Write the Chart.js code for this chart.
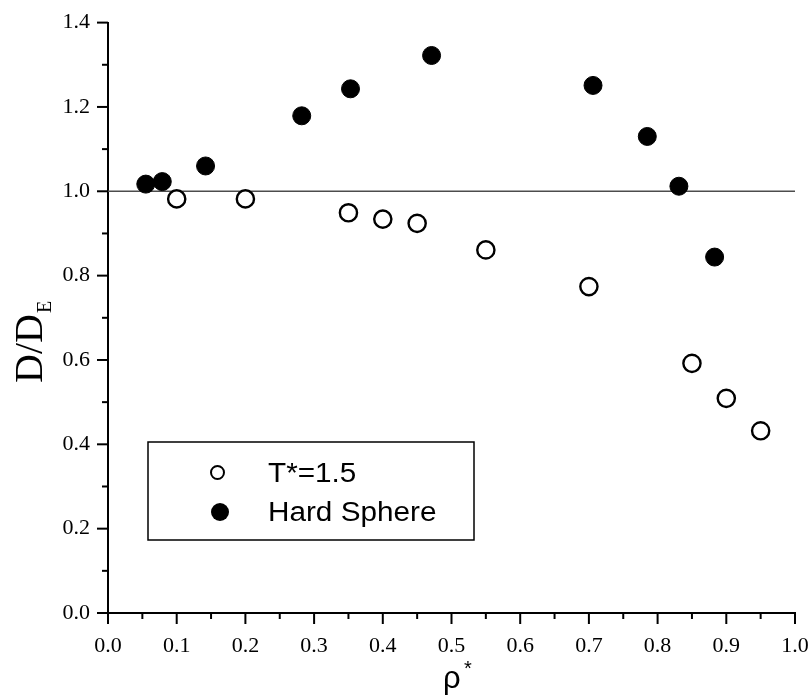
<!DOCTYPE html>
<html>
<head>
<meta charset="utf-8">
<script src="https://cdn.jsdelivr.net/npm/chart.js@4.4.1/dist/chart.umd.min.js"></script>
<style>
  html, body { margin: 0; padding: 0; background: #fff; }
  #wrap { width: 810px; height: 696px; }
</style>
</head>
<body>
<div id="wrap"><canvas id="chart"></canvas></div>
<script>
// T*=1.5 (open circles)
const tempRho = [0.100, 0.200, 0.350, 0.400, 0.450, 0.550, 0.700, 0.850, 0.900, 0.950];
const tempD   = [0.982, 0.982, 0.949, 0.934, 0.924, 0.861, 0.774, 0.592, 0.509, 0.432];

// Hard Sphere (filled circles)
const hardRho = [0.055, 0.079, 0.142, 0.282, 0.353, 0.471, 0.706, 0.785, 0.831, 0.883];
const hardD   = [1.017, 1.023, 1.060, 1.179, 1.243, 1.322, 1.251, 1.130, 1.012, 0.844];

// reference line D/DE = 1
const refRho = [0, 1];
const refD   = [1, 1];

const seriesNames = ['T*=1.5', 'Hard Sphere'];

function toPoints(xs, ys) {
  return xs.map(function (x, i) { return { x: x, y: ys[i] }; });
}

const tickFont = { family: 'Liberation Serif', size: 22 };

// tick marks, axis titles and the boxed legend
const decorations = {
  id: 'decorations',
  afterDraw: function (chart) {
    const ctx = chart.ctx;
    const xs = chart.scales.x;
    const ys = chart.scales.y;
    const area = chart.chartArea;
    ctx.save();
    ctx.strokeStyle = '#000';
    ctx.lineWidth = 2;

    // x ticks
    xs.ticks.forEach(function (t) {
      const px = xs.getPixelForValue(t.value);
      const len = t.label ? 11 : 6;
      ctx.beginPath();
      ctx.moveTo(px, area.bottom);
      ctx.lineTo(px, area.bottom + len);
      ctx.stroke();
    });
    // y ticks
    ys.ticks.forEach(function (t) {
      const py = ys.getPixelForValue(t.value);
      const len = t.label ? 11 : 6;
      ctx.beginPath();
      ctx.moveTo(area.left, py);
      ctx.lineTo(area.left - len, py);
      ctx.stroke();
    });

    ctx.fillStyle = '#000';
    ctx.textAlign = 'left';
    ctx.textBaseline = 'alphabetic';

    // y title D/D_E
    ctx.save();
    ctx.translate(42, 383);
    ctx.rotate(-Math.PI / 2);
    ctx.font = '40px "Liberation Serif"';
    ctx.fillText('D/D', 0, 0);
    const w = ctx.measureText('D/D').width;
    ctx.font = '20px "Liberation Serif"';
    ctx.fillText('E', w + 1, 9);
    ctx.restore();

    // x title rho*
    ctx.font = '31px "Liberation Sans"';
    ctx.fillText('\u03c1', 443, 688);
    ctx.font = '20px "Liberation Sans"';
    ctx.fillText('*', 464, 675);

    // legend box
    ctx.lineWidth = 1.5;
    ctx.fillStyle = '#fff';
    ctx.fillRect(148, 442, 326, 98);
    ctx.strokeRect(148, 442, 326, 98);

    ctx.lineWidth = 2;
    ctx.beginPath();
    ctx.arc(217.5, 472.5, 6.5, 0, Math.PI * 2);
    ctx.fill();
    ctx.stroke();

    ctx.fillStyle = '#000';
    ctx.beginPath();
    ctx.arc(220, 512, 9, 0, Math.PI * 2);
    ctx.fill();

    ctx.font = '27px "Liberation Sans"';
    ctx.save();
    ctx.translate(268, 482);
    ctx.scale(1.1, 1);
    ctx.fillText(seriesNames[0], 0, 0);
    ctx.restore();
    ctx.save();
    ctx.translate(268, 521);
    ctx.scale(1.1, 1);
    ctx.fillText(seriesNames[1], 0, 0);
    ctx.restore();

    ctx.restore();
  }
};

function noPad(scale) {
  scale.paddingTop = 0;
  scale.paddingBottom = 0;
  scale.paddingLeft = 0;
  scale.paddingRight = 0;
}

new Chart(document.getElementById('chart'), {
  type: 'scatter',
  data: {
    datasets: [
      {
        label: seriesNames[0],
        data: toPoints(tempRho, tempD),
        pointStyle: 'circle',
        pointRadius: 8.6,
        pointBorderWidth: 2.4,
        pointBackgroundColor: '#fff',
        pointBorderColor: '#000',
        order: 1
      },
      {
        label: seriesNames[1],
        data: toPoints(hardRho, hardD),
        pointStyle: 'circle',
        pointRadius: 9,
        pointBorderWidth: 1,
        pointBackgroundColor: '#000',
        pointBorderColor: '#000',
        order: 2
      },
      {
        type: 'line',
        label: 'ref',
        data: toPoints(refRho, refD),
        borderColor: '#4d4d4d',
        borderWidth: 1.5,
        pointRadius: 0,
        fill: false,
        order: 3
      }
    ]
  },
  options: {
    responsive: true,
    maintainAspectRatio: false,
    animation: false,
    layout: {
      padding: { left: 0, right: 15, top: 22.6, bottom: 0 }
    },
    plugins: {
      legend: { display: false },
      tooltip: { enabled: false }
    },
    scales: {
      x: {
        type: 'linear',
        min: 0,
        max: 1,
        afterFit: function (scale) { scale.height = 83; noPad(scale); },
        grid: { display: false, drawTicks: false },
        border: { display: true, color: '#000', width: 2 },
        ticks: {
          stepSize: 0.05,
          autoSkip: false,
          maxRotation: 0,
          padding: 20,
          color: '#000',
          font: tickFont,
          callback: function (value) {
            const v = Math.round(value * 100);
            return v % 10 === 0 ? (v / 100).toFixed(1) : '';
          }
        }
      },
      y: {
        type: 'linear',
        min: 0,
        max: 1.4,
        afterFit: function (scale) { scale.width = 108; noPad(scale); },
        grid: { display: false, drawTicks: false },
        border: { display: true, color: '#000', width: 2 },
        ticks: {
          stepSize: 0.1,
          autoSkip: false,
          padding: 18,
          color: '#000',
          font: tickFont,
          callback: function (value) {
            const v = Math.round(value * 10);
            return v % 2 === 0 ? (v / 10).toFixed(1) : '';
          }
        }
      }
    }
  },
  plugins: [decorations]
});
</script>
</body>
</html>
